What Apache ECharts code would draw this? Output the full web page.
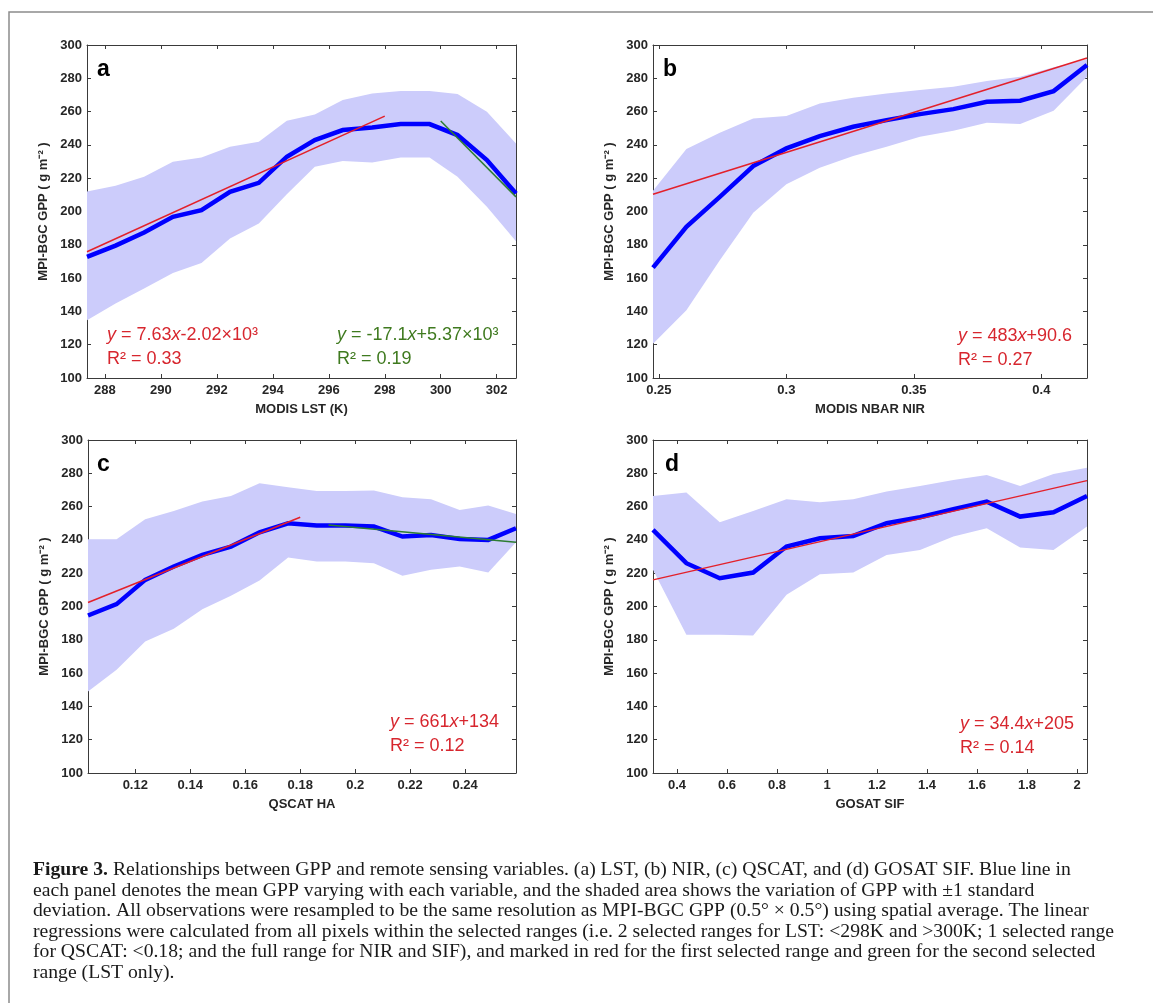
<!DOCTYPE html>
<html>
<head>
<meta charset="utf-8">
<script src="https://cdn.jsdelivr.net/npm/echarts@6/dist/echarts.min.js"></script>
<style>
  html, body { margin: 0; padding: 0; background: #fff; }
  #chart { width: 1153px; height: 1003px; }
</style>
</head>
<body>
<div id="chart"></div>
<script>
// (a) MODIS LST
var lstX     = [287.36, 288.38, 289.4, 290.43, 291.45, 292.47, 293.5, 294.5, 295.5, 296.5, 297.55, 298.57, 299.6, 300.6, 301.65, 302.69];
var lstMean  = [172.7, 179.5, 187.4, 196.8, 200.8, 211.8, 217.2, 232.9, 242.9, 248.9, 250.5, 252.5, 252.5, 245.9, 230.9, 210.8];
var lstUpper = [212, 215.5, 220.8, 229.9, 232.5, 238.9, 241.9, 254.5, 258.3, 266.9, 270.9, 272.3, 272.3, 270.5, 259.9, 240.9];
var lstLower = [134.7, 144.7, 153.7, 163.1, 169.1, 183.8, 192.8, 210.4, 226.9, 230.3, 229.5, 232.5, 232.5, 220.8, 202.8, 182.2];
var lstFit1  = [[287.36, 175.8], [298, 257.3]];
var lstFit2  = [[300, 254.3], [302.69, 208.8]];
var lstTicks = [288, 290, 292, 294, 296, 298, 300, 302];

// (b) MODIS NBAR NIR
var nirX     = [0.2477, 0.2608, 0.2739, 0.287, 0.3, 0.3131, 0.3262, 0.3393, 0.3524, 0.3655, 0.3786, 0.3917, 0.4048, 0.4179];
var nirMean  = [166.3, 190.8, 208.8, 227.3, 237.9, 245.3, 250.9, 254.9, 258.5, 261.5, 265.9, 266.5, 272.3, 288.0];
var nirUpper = [212.4, 237.5, 247.3, 255.9, 257.3, 264.9, 268.3, 270.9, 272.9, 274.9, 278.4, 281.0, 286.6, 291.4];
var nirLower = [120.6, 140.7, 170.7, 199.2, 216.4, 226.3, 233.3, 238.9, 244.9, 248.5, 253.3, 252.5, 260.5, 281.0];
var nirFit1  = [[0.2477, 210.4], [0.4179, 292.2]];
var nirTicks = [0.25, 0.3, 0.35, 0.4];

// (c) QSCAT HA
var haX     = [0.1028, 0.1132, 0.1236, 0.134, 0.1444, 0.1548, 0.1652, 0.1756, 0.186, 0.1964, 0.2068, 0.2172, 0.2276, 0.238, 0.2484, 0.2585];
var haMean  = [194.6, 201.4, 216, 224, 231, 236, 244.6, 250, 248.6, 248.6, 248, 242, 243, 240.6, 240, 247];
var haUpper = [240.4, 240.4, 252.4, 257.4, 263, 266.4, 274, 271.6, 269.4, 269.4, 269.6, 265.6, 264.4, 258, 260.6, 255.6];
var haLower = [149, 162, 179, 186.6, 198.4, 206.4, 215.6, 229.4, 227, 227, 226, 218.4, 222, 224, 220.4, 238.6];
var haFit1  = [[0.1028, 202.4], [0.18, 253.6]];
var haFit2  = [[0.1903, 249], [0.2585, 238.6]];
var haTicks = [0.12, 0.14, 0.16, 0.18, 0.2, 0.22, 0.24];

// (d) GOSAT SIF
var sifX     = [0.304, 0.4375, 0.571, 0.7045, 0.838, 0.9715, 1.105, 1.2385, 1.372, 1.5055, 1.639, 1.7725, 1.906, 2.04];
var sifMean  = [246, 226, 217, 220.4, 236, 241, 242.4, 250, 253.6, 258.4, 263, 254, 256.6, 266.4];
var sifUpper = [266.4, 268.4, 250.6, 257.4, 264.4, 262.6, 264.4, 269, 272.4, 276, 279, 272.4, 279.6, 283.4];
var sifLower = [222, 183, 183, 182.6, 207, 219.4, 220.4, 231, 234, 242, 247, 235.4, 234, 248];
var sifFit1  = [[0.304, 216], [2.04, 275.6]];
var sifTicks = [0.4, 0.6, 0.8, 1, 1.2, 1.4, 1.6, 1.8, 2];

var yTitle = 'MPI-BGC GPP ( g m\u207B\u00B2 )';

var panels = [
  {x: lstX, mean: lstMean, up: lstUpper, lo: lstLower, fits: [lstFit1, lstFit2], ticks: lstTicks,
   min: 287.36, max: 302.69, name: 'MODIS LST (K)', grid: {left: 87, top: 45, width: 429, height: 333}},
  {x: nirX, mean: nirMean, up: nirUpper, lo: nirLower, fits: [nirFit1], ticks: nirTicks,
   min: 0.2477, max: 0.4179, name: 'MODIS NBAR NIR', grid: {left: 653, top: 45, width: 434, height: 333}},
  {x: haX, mean: haMean, up: haUpper, lo: haLower, fits: [haFit1, haFit2], ticks: haTicks,
   min: 0.1028, max: 0.2585, name: 'QSCAT HA', grid: {left: 88, top: 440, width: 428, height: 333}},
  {x: sifX, mean: sifMean, up: sifUpper, lo: sifLower, fits: [sifFit1], ticks: sifTicks,
   min: 0.304, max: 2.04, name: 'GOSAT SIF', grid: {left: 653, top: 440, width: 434, height: 333}}
];

var fitColors = ['#e3202a', '#2e7d32'];
var boxColor = '#3a3a3a';
var sans = '"Liberation Sans", Arial, sans-serif';

var grids = [], xAxes = [], yAxes = [], series = [];

panels.forEach(function (p, i) {
  var g = p.grid;
  grids.push({left: g.left, top: g.top, width: g.width, height: g.height, show: false, outerBoundsMode: 'none'});
  var tickCommon = {show: true, inside: true, length: 4, lineStyle: {color: boxColor, width: 1}};
  // bottom x axis with labels
  xAxes.push({
    type: 'value', gridIndex: i, position: 'bottom', min: p.min, max: p.max,
    name: p.name, nameLocation: 'middle', nameGap: 25,
    nameTextStyle: {fontFamily: sans, fontWeight: 'bold', fontSize: 13, color: '#262626'},
    axisLine: {show: true, onZero: false, lineStyle: {color: boxColor, width: 1}},
    axisTick: Object.assign({customValues: p.ticks}, tickCommon),
    axisLabel: {customValues: p.ticks, margin: 6, fontFamily: sans, fontWeight: 'bold', fontSize: 13, color: '#262626',
      showMinLabel: true, showMaxLabel: true},
    splitLine: {show: false}
  });
  // top x axis: ticks only
  xAxes.push({
    type: 'value', gridIndex: i, position: 'top', min: p.min, max: p.max,
    axisLine: {show: true, onZero: false, lineStyle: {color: boxColor, width: 1}},
    axisTick: Object.assign({customValues: p.ticks}, tickCommon),
    axisLabel: {show: false}, splitLine: {show: false}
  });
  yAxes.push({
    type: 'value', gridIndex: i, position: 'left', min: 100, max: 300, interval: 20,
    name: yTitle, nameLocation: 'middle', nameGap: 37,
    nameTextStyle: {fontFamily: sans, fontWeight: 'bold', fontSize: 13, color: '#262626'},
    axisLine: {show: true, onZero: false, lineStyle: {color: boxColor, width: 1}},
    axisTick: tickCommon,
    axisLabel: {margin: 5, fontFamily: sans, fontWeight: 'bold', fontSize: 13, color: '#262626'},
    splitLine: {show: false}
  });
  yAxes.push({
    type: 'value', gridIndex: i, position: 'right', min: 100, max: 300, interval: 20,
    axisLine: {show: true, onZero: false, lineStyle: {color: boxColor, width: 1}},
    axisTick: tickCommon, axisLabel: {show: false}, splitLine: {show: false}
  });

  var xi = i * 2, yi = i * 2;
  // +-1 std band
  series.push({
    type: 'custom', xAxisIndex: xi, yAxisIndex: yi, silent: true, clip: true, z: 1,
    data: [[p.x[0], p.lo[0]]],
    renderItem: function (params, api) {
      var top = p.x.map(function (x, k) { return api.coord([x, p.up[k]]); });
      var bot = p.x.map(function (x, k) { return api.coord([x, p.lo[k]]); }).reverse();
      return {type: 'polygon', shape: {points: top.concat(bot)}, style: {fill: '#ccccfb', stroke: null}};
    }
  });
  // mean GPP
  series.push({
    type: 'line', xAxisIndex: xi, yAxisIndex: yi, z: 3, showSymbol: false, silent: true,
    data: p.x.map(function (x, k) { return [x, p.mean[k]]; }),
    lineStyle: {color: '#0000ff', width: 4.5, join: 'miter'}
  });
  // regression lines
  p.fits.forEach(function (f, k) {
    series.push({
      type: 'line', xAxisIndex: xi, yAxisIndex: yi, z: 4, showSymbol: false, silent: true,
      data: f, lineStyle: {color: fitColors[k], width: 1.5}
    });
  });
});

function eq(x, y, txt, color) {
  return {
    type: 'text', x: x, y: y, z: 10,
    style: {
      text: txt, fill: color, fontFamily: sans, fontSize: 18, lineHeight: 24,
      rich: {i: {fontStyle: 'italic', fill: color, fontFamily: sans, fontSize: 18, lineHeight: 24}}
    }
  };
}
function letter(x, y, t) {
  return {type: 'text', x: x, y: y, z: 10,
    style: {text: t, fill: '#000', fontFamily: sans, fontWeight: 'bold', fontSize: 23}};
}

var captionLines = [
  '{b|Figure 3.} Relationships between GPP and remote sensing variables. (a) LST, (b) NIR, (c) QSCAT, and (d) GOSAT SIF. Blue line in',
  'each panel denotes the mean GPP varying with each variable, and the shaded area shows the variation of GPP with \u00B11 standard',
  'deviation. All observations were resampled to be the same resolution as MPI-BGC GPP (0.5\u00B0 \u00D7 0.5\u00B0) using spatial average. The linear',
  'regressions were calculated from all pixels within the selected ranges (i.e. 2 selected ranges for LST: <298K and >300K; 1 selected range',
  'for QSCAT: <0.18; and the full range for NIR and SIF), and marked in red for the first selected range and green for the second selected',
  'range (LST only).'
];
var serif = '"Liberation Serif", "Times New Roman", serif';
var graphics = [
  {type: 'polyline', z: 0, shape: {points: [[9, 1003], [9, 12], [1153, 12]]}, style: {stroke: '#8c8c8c', lineWidth: 1.5, fill: null}},
  letter(97, 58, 'a'), letter(663, 58, 'b'), letter(97, 453, 'c'), letter(665, 453, 'd'),
  eq(107, 323, '{i|y} = 7.63{i|x}-2.02\u00D710\u00B3\nR\u00B2 = 0.33', '#d7262e'),
  eq(337, 323, '{i|y} = -17.1{i|x}+5.37\u00D710\u00B3\nR\u00B2 = 0.19', '#3f7a1f'),
  eq(958, 324, '{i|y} = 483{i|x}+90.6\nR\u00B2 = 0.27', '#d7262e'),
  eq(390, 710, '{i|y} = 661{i|x}+134\nR\u00B2 = 0.12', '#d7262e'),
  eq(960, 712, '{i|y} = 34.4{i|x}+205\nR\u00B2 = 0.14', '#d7262e')
];
captionLines.forEach(function (t, k) {
  graphics.push({
    type: 'text', x: 33, y: Math.round(861 + k * 20.6), z: 10, scaleX: 1.035,
    style: {text: t, fill: '#1a1a1a', fontFamily: serif, fontSize: 19,
      rich: {b: {fontWeight: 'bold', fontFamily: serif, fontSize: 19, fill: '#1a1a1a'}}}
  });
});

var chart = echarts.init(document.getElementById('chart'));
chart.setOption({
  animation: false,
  backgroundColor: '#ffffff',
  grid: grids,
  xAxis: xAxes,
  yAxis: yAxes,
  series: series,
  graphic: graphics
});
</script>
</body>
</html>
